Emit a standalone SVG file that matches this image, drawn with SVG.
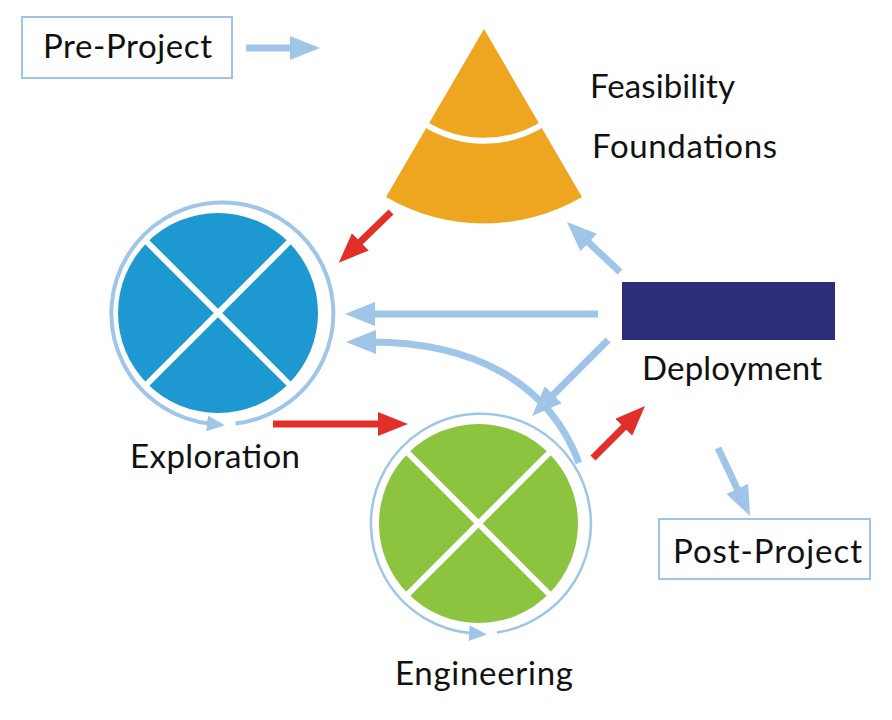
<svg xmlns="http://www.w3.org/2000/svg" width="892" height="720" viewBox="0 0 892 720">
<style>
  .lbl { font-family: Lato, "Open Sans", sans-serif; font-size: 33px; fill: #111; }
  .box { fill: #fff; stroke: #9fc5e8; stroke-width: 2; }
  .conn { fill: none; stroke: #9fc5e8; stroke-width: 7; }
  .red { fill: none; stroke: #e1302a; stroke-width: 7; }
  .cross { stroke: #fff; stroke-width: 6; }
  .ring { fill: none; stroke: #9fc5e8; }
</style>
<defs>
  <marker id="hb" markerUnits="userSpaceOnUse" markerWidth="32" markerHeight="24" refX="6" refY="12" orient="auto">
    <path d="M0,0 L30,12 L0,24 z" fill="#9fc5e8"/>
  </marker>
  <marker id="hr" markerUnits="userSpaceOnUse" markerWidth="32" markerHeight="24" refX="6" refY="12" orient="auto">
    <path d="M0,0 L30,12 L0,24 z" fill="#e1302a"/>
  </marker>
  <marker id="hs" markerUnits="userSpaceOnUse" markerWidth="20" markerHeight="16" refX="4" refY="8" orient="auto">
    <path d="M0,0 L18,8 L0,16 z" fill="#9fc5e8"/>
  </marker>
</defs>

<g id="pre-project">
  <rect class="box" x="22" y="17" width="210" height="61"/>
  <text class="lbl" x="43" y="58" textLength="169">Pre-Project</text>
</g>

<g id="feasibility">
  <path d="M484,29 L386,197 A194,194 0 0 0 582,197 Z" fill="#eea621"/>
  <path d="M425,124 A112,112 0 0 0 543,124" fill="none" stroke="#fff" stroke-width="6"/>
  <text class="lbl" x="590" y="98" textLength="145">Feasibility</text>
  <text class="lbl" x="592" y="158" textLength="185">Foundations</text>
</g>

<g id="exploration">
  <circle cx="218" cy="313" r="100" fill="#1e98d0"/>
  <line class="cross" x1="147" y1="242" x2="289" y2="384"/>
  <line class="cross" x1="289" y1="242" x2="147" y2="384"/>
  <path class="ring" stroke-width="4" d="M235.5,423.6 A111,111 0 1 0 211,423.8" marker-end="url(#hs)"/>
  <text class="lbl" x="130" y="468" textLength="170">Exploration</text>
</g>

<g id="engineering">
  <circle cx="478.5" cy="523.5" r="99.5" fill="#8cc43f"/>
  <line class="cross" x1="408" y1="453" x2="549" y2="594"/>
  <line class="cross" x1="549" y1="453" x2="408" y2="594"/>
  <path class="ring" stroke-width="2.5" d="M497,632.5 A110,110 0 1 0 473,633.4" marker-end="url(#hs)"/>
  <text class="lbl" x="395" y="685" textLength="178">Engineering</text>
</g>

<g id="deployment">
  <rect x="622" y="282" width="213" height="58" fill="#2e2d7b"/>
  <text class="lbl" x="642" y="380" textLength="180">Deployment</text>
</g>

<g id="post-project">
  <rect class="box" x="659" y="519" width="211" height="60"/>
  <text class="lbl" x="673" y="563" textLength="189">Post-Project</text>
</g>

<g id="connectors">
  <line class="conn" x1="246" y1="48" x2="296" y2="48" marker-end="url(#hb)"/>
  <path class="conn" d="M579,463 C548,380 470,342 370,342" marker-end="url(#hb)"/>
  <line class="conn" x1="598" y1="314" x2="369" y2="314" marker-end="url(#hb)"/>
  <line class="conn" x1="620" y1="272" x2="584.4" y2="238.5" marker-end="url(#hb)"/>
  <line x1="608" y1="340" x2="549" y2="399" stroke="#fff" stroke-width="15"/>
  <line class="conn" x1="608" y1="340" x2="549" y2="399" marker-end="url(#hb)"/>
  <line class="conn" x1="718" y1="448" x2="739.8" y2="494.3" marker-end="url(#hb)"/>
  <line class="red" x1="391" y1="212" x2="356" y2="246" marker-end="url(#hr)"/>
  <line class="red" x1="273" y1="424" x2="384" y2="424" marker-end="url(#hr)"/>
  <line class="red" x1="593" y1="458" x2="628" y2="423" marker-end="url(#hr)"/>
</g>
</svg>
